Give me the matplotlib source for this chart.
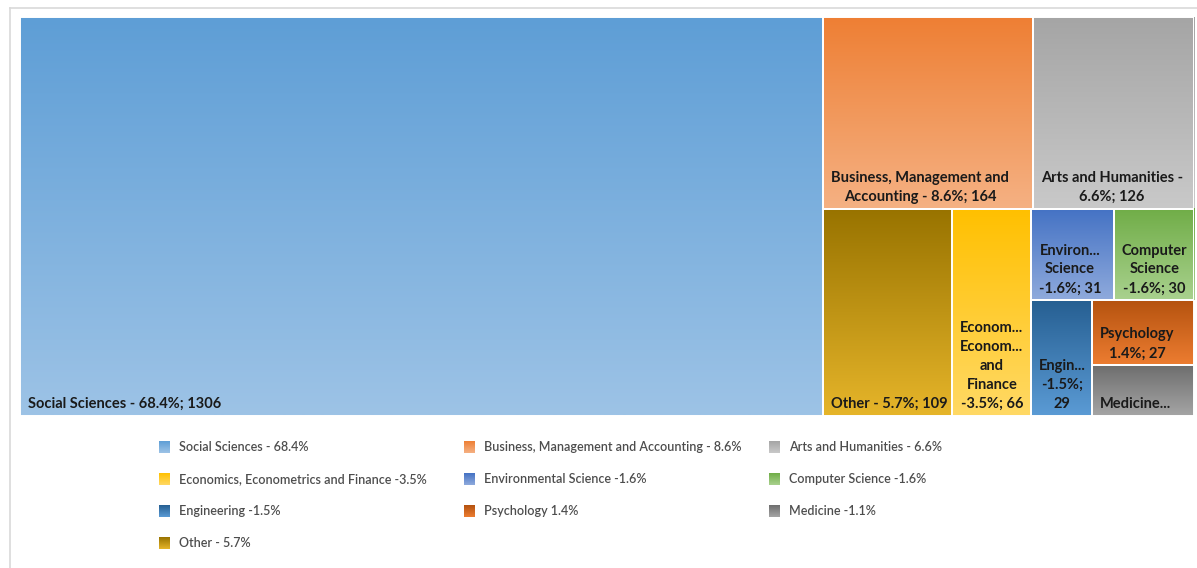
import numpy as np
import matplotlib
matplotlib.use('Agg')
import matplotlib.pyplot as plt
from matplotlib.colors import to_rgb
from matplotlib.patches import Rectangle

# data
subjects = ['Social Sciences', 'Business, Management and Accounting', 'Arts and Humanities',
            'Economics, Econometrics and Finance', 'Environmental Science', 'Computer Science',
            'Engineering', 'Psychology', 'Medicine', 'Other']
counts = [1306, 164, 126, 66, 31, 30, 29, 27, 21, 109]
legend_labels = ['Social Sciences - 68.4%', 'Business, Management and Accounting - 8.6%',
                 'Arts and Humanities - 6.6%', 'Economics, Econometrics and Finance -3.5%',
                 'Environmental Science -1.6%', 'Computer Science -1.6%', 'Engineering -1.5%',
                 'Psychology 1.4%', 'Medicine -1.1%', 'Other - 5.7%']
cell_labels = ['Social Sciences - 68.4%; 1306',
               'Business, Management and\nAccounting - 8.6%; 164',
               'Arts and Humanities -\n6.6%; 126',
               'Econom...\nEconom...\nand\nFinance\n-3.5%; 66',
               'Environ...\nScience\n-1.6%; 31',
               'Computer\nScience\n-1.6%; 30',
               'Engin...\n-1.5%;\n29',
               'Psychology\n1.4%; 27',
               'Medicine...',
               'Other - 5.7%; 109']

# gradient colours, top -> bottom
top_colors = ['#5E9ED6', '#EE7F34', '#A5A5A5', '#FFC000', '#4472C4', '#70AD47',
              '#265F92', '#B4520F', '#6E6E6E', '#987300']
bottom_colors = ['#9DC3E6', '#F5B183', '#C9C9C9', '#FFD965', '#8FAADC', '#A9D18E',
                 '#5B9BD5', '#ED7D31', '#A5A5A5', '#E6B52A']

# strips used by the treemap, laid along the shorter side of what is left
strips = [['Social Sciences'],
          ['Business, Management and Accounting', 'Arts and Humanities'],
          ['Other'],
          ['Economics, Econometrics and Finance'],
          ['Environmental Science', 'Computer Science'],
          ['Engineering'],
          ['Psychology'],
          ['Medicine']]

plt.rcParams['font.family'] = ['Lato', 'DejaVu Sans']

W, H = 1197, 568
fig = plt.figure(figsize=(W / 100, H / 100), dpi=100)

# background layer in pixel coordinates: frame + legend
bg = fig.add_axes([0, 0, 1, 1])
bg.set_xlim(0, W)
bg.set_ylim(H, 0)
bg.axis('off')
bg.plot([9.5, W], [7.5, 7.5], color='#D9D9D9', lw=1.2)
bg.plot([9.5, 9.5], [7.5, H], color='#D9D9D9', lw=1.2)


def gradient(ax, x, y, w, h, c1, c2):
    t = np.linspace(0, 1, 128)[:, None, None]
    img = np.array(to_rgb(c1)) * (1 - t) + np.array(to_rgb(c2)) * t
    ax.imshow(img, extent=(x, x + w, y + h, y), origin='upper', aspect='auto',
              interpolation='bilinear')


# legend, row-wise, 3 columns
col_x = [159, 464, 769]
row_y = [447, 479, 511, 543]
for k, lab in enumerate(legend_labels):
    cx = col_x[k % 3]
    cy = row_y[k // 3]
    gradient(bg, cx, cy - 6, 11, 12, top_colors[k], bottom_colors[k])
    bg.text(cx + 20, cy, lab, fontsize=9, color='#4D4D4D', va='center', ha='left',
            fontweight='semibold')
bg.set_xlim(0, W)
bg.set_ylim(H, 0)

# treemap area
x0, x1, y0, y1 = 20, 1194, 17, 416
ax = fig.add_axes([x0 / W, (H - y1) / H, (x1 - x0) / W, (y1 - y0) / H])
ax.axis('off')
tw, th = x1 - x0, y1 - y0

vals = dict(zip(subjects, counts))
rects = {}
x, y, w, h = 0.0, 0.0, float(tw), float(th)
rem = float(sum(counts))
for group in strips:
    s = sum(vals[g] for g in group)
    if w >= h:
        cw = w * s / rem
        cy = y
        for g in group:
            ch = h * vals[g] / s
            rects[g] = (x, cy, cw, ch)
            cy += ch
        x += cw
        w -= cw
    else:
        rh = h * s / rem
        cx = x
        for g in group:
            cwid = w * vals[g] / s
            rects[g] = (cx, y, cwid, rh)
            cx += cwid
        y += rh
        h -= rh
    rem -= s

for i, name in enumerate(subjects):
    rx, ry, rw, rh = rects[name]
    gradient(ax, rx, ry, rw, rh, top_colors[i], bottom_colors[i])
    ax.add_patch(Rectangle((rx, ry), rw, rh, fill=False, edgecolor='white', lw=1.4))
    ax.text(rx + 8, ry + rh - 5, cell_labels[i], fontsize=10.5, fontweight='bold',
            color='#1A1A1A', ha='left', va='bottom', multialignment='center',
            linespacing=1.45)

ax.set_xlim(0, tw)
ax.set_ylim(th, 0)

fig.savefig('out.png', dpi=100)
